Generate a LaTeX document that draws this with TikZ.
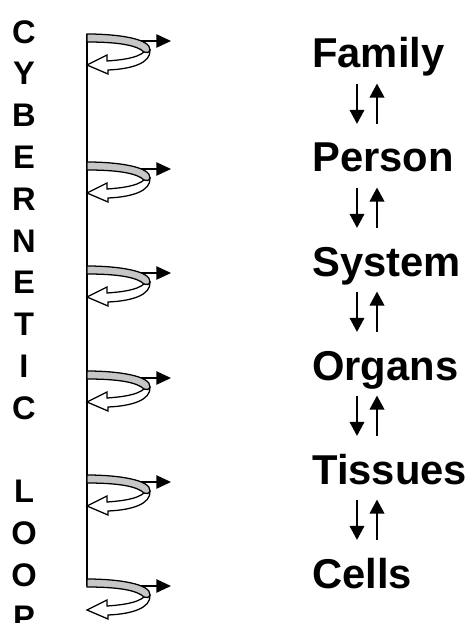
\documentclass[tikz,border=0pt]{standalone}
\usepackage{fontspec}
\setmainfont{Liberation Sans}
\usetikzlibrary{arrows.meta,calc}

\tikzset{
  tier/.style={anchor=base west,inner sep=0pt,text height=22.4pt,text depth=6.6pt,
    font=\fontsize{31.3}{36}\selectfont\bfseries},
  updown/.style={line width=1.2pt,-{Triangle[length=10.5pt,width=11pt]}},
  outarrow/.style={line width=1.1pt,-{Triangle[length=11pt,width=10pt]}},
  ribbon/.style={fill=black!22,draw=black,line width=0.95pt},
  backarrow/.style={fill=white,draw=black,line width=0.95pt,line join=miter}
}

\begin{document}
\begin{tikzpicture}[x=0.75pt,y=-0.75pt]
  \useasboundingbox (0,0) rectangle (469,623);
  % left caption
  \node[anchor=north,inner sep=0pt,align=center,font=\fontsize{24.5}{31.35}\selectfont\bfseries] (word) at (24,20)
    {C\\Y\\B\\E\\R\\N\\E\\T\\I\\C\\[31.35pt]L\\O\\O\\P};
  % spine
  \coordinate (top) at (87,34);
  \coordinate (bot) at (87,586);
  \draw[line width=1.1pt] (top) -- (bot);
  % loops
  \foreach \y in {34,162,266,371,475,579}{
    \begin{scope}[shift={(87,\y)}]
      \draw[outarrow] (45,7) -- (84,7);
      \draw[backarrow] (63,16) .. controls (64,29) and (45,35) .. (21,36) -- (21,40) -- (0,31) -- (20,21) -- (20,27) .. controls (35,26) and (50,24) .. (57,18) -- cycle;
      \draw[ribbon] (0,0) .. controls (32,0) and (64,5) .. (63,16) .. controls (62,19) and (59,19) .. (57,18) .. controls (50,11) and (30,8) .. (0,8) -- cycle;
    \end{scope}
  }
  % levels
  \node[tier] (fam) at (312,68) {Family};
  \node[tier] (per) at (312,172) {Person};
  \node[tier] (sys) at (312,276) {System};
  \node[tier] (org) at (312,380) {Organs};
  \node[tier] (tis) at (312,484) {Tissues};
  \node[tier] (cel) at (312,588) {Cells};
  \foreach \a/\b in {fam/per,per/sys,sys/org,org/tis,tis/cel}{
    \draw[updown] ($(\a.south west)+(45,6.5)$) -- ($(\b.north west)+(45,-18)$);
    \draw[updown] ($(\b.north west)+(65,-18)$) -- ($(\a.south west)+(65,6.5)$);
  }
\end{tikzpicture}
\end{document}
